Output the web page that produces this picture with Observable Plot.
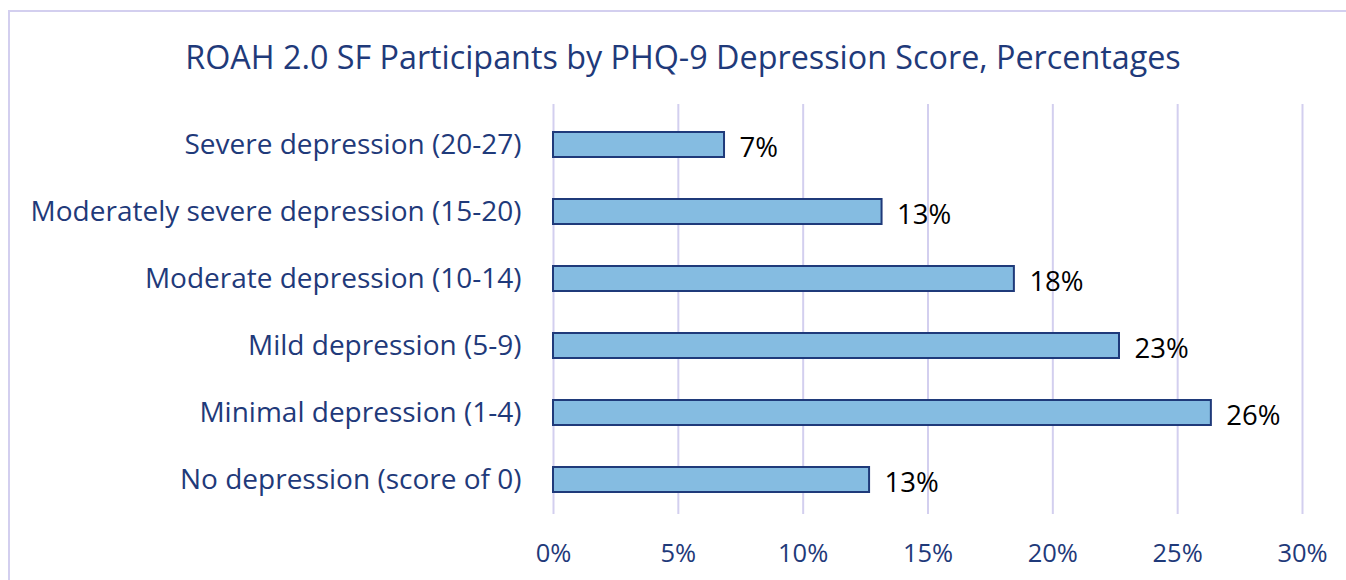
<!DOCTYPE html>
<html><head><meta charset="utf-8">
<script src="https://cdn.jsdelivr.net/npm/d3@7"></script>
<script src="https://cdn.jsdelivr.net/npm/@observablehq/plot@0.6"></script>
<style>
body{margin:0;background:#fff;}
#wrap{position:relative;width:1346px;height:580px;overflow:hidden;font-family:"Open Sans",sans-serif;}
#frame{position:absolute;left:8px;top:10px;width:1400px;height:600px;border-left:2px solid #D3CFEF;border-top:2px solid #D3CFEF;}
#title{position:absolute;top:34px;left:10px;width:1346px;text-align:center;color:#1F3A7A;font-size:32.3px;line-height:44px;white-space:nowrap;}
#chart{position:absolute;left:0;top:95px;}
</style>
</head><body>
<div id="wrap"><div id="frame"></div><div id="title">ROAH 2.0 SF Participants by PHQ-9 Depression Score, Percentages</div><div id="chart"></div></div>
<script>
const categories = ["Severe depression (20-27)","Moderately severe depression (15-20)","Moderate depression (10-14)","Mild depression (5-9)","Minimal depression (1-4)","No depression (score of 0)"];
const values = [6.85, 13.16, 18.46, 22.67, 26.35, 12.66];
const valueLabels = ["7%","13%","18%","23%","26%","13%"];
const xTicks = [0,5,10,15,20,25,30];

const data = categories.map((c,i)=>({category:c, value:values[i], label:valueLabels[i]}));
const navy = "#1F3A7A";
const chart = Plot.plot({
  width:1346, height:485,
  marginLeft:553, marginRight:44, marginTop:9, marginBottom:66,
  style:{fontFamily:"'Open Sans', sans-serif", color:navy, background:"transparent"},
  x:{domain:[0,30], label:null},
  y:{domain:categories, range:[12,422], paddingInner:0.63, paddingOuter:0.357, label:null},
  marks:[
    Plot.gridX(xTicks,{stroke:"#D3CFEF", strokeOpacity:1, strokeWidth:2}),
    Plot.barX(data,{x:"value", y:"category", fill:"#85BCE1", stroke:"#1F3A7A", strokeWidth:2}),
    Plot.text(data,{x:"value", y:"category", text:"label", dx:15, dy:3, textAnchor:"start", fill:"black", fontSize:27.5}),
    Plot.axisX({ticks:xTicks, tickFormat:d=>d+"%", tickSize:0, tickPadding:29, fontSize:25.5, fill:navy, label:null}),
    Plot.axisY({tickSize:0, tickPadding:32, fontSize:28, fill:navy, label:null})
  ]
});
document.getElementById("chart").appendChild(chart);
</script>
</body></html>
